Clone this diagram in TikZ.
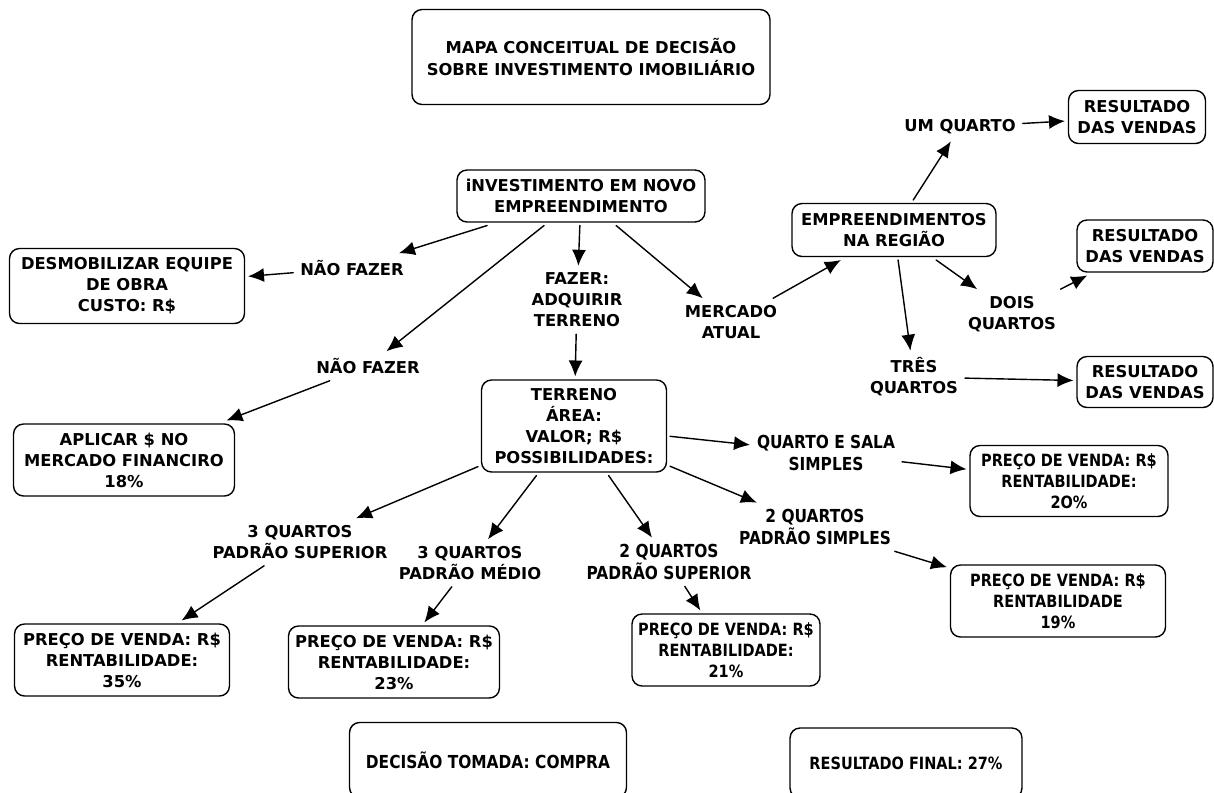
\documentclass[tikz,border=0pt]{standalone}
\usepackage{fontspec}
\setmainfont{DejaVu Sans}
\newfontfamily\condfont{DejaVu Sans}[FakeStretch=0.86]
\usetikzlibrary{arrows.meta}

\begin{document}
\begin{tikzpicture}
    [line cap=round,line join=round,x=0.02cm,y=-0.02cm,
     box/.style={draw,rounded corners=2mm,line width=0.8pt,align=center,inner sep=2pt,outer sep=2pt,
                 font=\fontsize{9.3}{12}\selectfont\bfseries},
     lbl/.style={align=center,inner sep=3pt,outer sep=1pt,font=\fontsize{9.3}{12}\selectfont\bfseries},
     cond/.style={font=\fontsize{9.6}{12}\selectfont\condfont\bfseries},
     bigcond/.style={font=\fontsize{10.2}{12}\selectfont\condfont\bfseries},
     arr/.style={-{Latex[length=3.2mm,width=2.8mm]},line width=0.8pt}]
\useasboundingbox (0,0) rectangle (1214,792);
%boxes
\node[box,minimum width=7.16cm,minimum height=1.90cm] (title) at (591,57) {MAPA CONCEITUAL DE DECIS\~AO\\SOBRE INVESTIMENTO IMOBILI\'ARIO};
\node[box,minimum width=4.96cm,minimum height=1.04cm] (invest) at (581,196) {iNVESTIMENTO EM NOVO\\EMPREENDIMENTO};
\node[box,minimum width=4.70cm,minimum height=1.50cm] (desmob) at (127,286) {DESMOBILIZAR EQUIPE\\DE OBRA\\CUSTO: R\$};
\node[box,minimum width=4.42cm,minimum height=1.44cm] (aplicar) at (124,460) {APLICAR \$ NO\\MERCADO FINANCIRO\\18\%};
\node[box,minimum width=4.08cm,minimum height=1.06cm] (empreend) at (894,230) {EMPREENDIMENTOS\\NA REGI\~AO};
\node[box,minimum width=2.74cm,minimum height=1.06cm] (res1) at (1137,117) {RESULTADO\\DAS VENDAS};
\node[box,minimum width=2.72cm,minimum height=1.04cm] (res2) at (1145,246) {RESULTADO\\DAS VENDAS};
\node[box,minimum width=2.72cm,minimum height=1.02cm] (res3) at (1145,382) {RESULTADO\\DAS VENDAS};
\node[box,minimum width=3.70cm,minimum height=1.84cm] (terreno) at (574,426) {TERRENO\\\'AREA:\\VALOR; R\$\\POSSIBILIDADES:};
\node[box,cond,minimum width=3.96cm,minimum height=1.42cm] (pv20) at (1069,481) {PRE\c{C}O DE VENDA: R\$\\RENTABILIDADE:\\2O\%};
\node[box,minimum width=4.30cm,minimum height=1.44cm] (pv35) at (122,660) {PRE\c{C}O DE VENDA: R\$\\RENTABILIDADE:\\35\%};
\node[box,minimum width=4.22cm,minimum height=1.44cm] (pv23) at (394,662) {PRE\c{C}O DE VENDA: R\$\\RENTABILIDADE:\\23\%};
\node[box,cond,minimum width=3.76cm,minimum height=1.44cm] (pv21) at (726,650) {PRE\c{C}O DE VENDA: R\$\\RENTABILIDADE:\\21\%};
\node[box,cond,minimum width=4.30cm,minimum height=1.44cm] (pv19) at (1058,601) {PRE\c{C}O DE VENDA: R\$\\RENTABILIDADE\\19\%};
\node[box,bigcond,minimum width=5.54cm,minimum height=1.50cm] (decisao) at (488,760) {DECIS\~AO TOMADA: COMPRA};
\node[box,cond,minimum width=4.64cm,minimum height=1.40cm] (resfinal) at (906,763) {RESULTADO FINAL: 27\%};
%labels on the links
\node[lbl] (naofaz1) at (352,268) {N\~AO FAZER};
\node[lbl] (naofaz2) at (368,366) {N\~AO FAZER};
\node[lbl] (fazer) at (577,300) {FAZER:\\ADQUIRIR\\TERRENO};
\node[lbl] (mercado) at (731,322) {MERCADO\\ATUAL};
\node[lbl] (umq) at (960,127) {UM QUARTO};
\node[lbl] (doisq) at (1012,314) {DOIS\\QUARTOS};
\node[lbl] (tresq) at (914,377) {TR\^ES\\QUARTOS};
\node[lbl,bigcond] (qsala) at (826,453) {QUARTO E SALA\\SIMPLES};
\node[lbl,bigcond] (dqsimp) at (815,527) {2 QUARTOS\\PADR\~AO SIMPLES};
\node[lbl,bigcond] (dqsup) at (669,562) {2 QUARTOS\\PADR\~AO SUPERIOR};
\node[lbl] (tqmed) at (470,563) {3 QUARTOS\\PADR\~AO M\'EDIO};
\node[lbl] (tqsup) at (300,542) {3 QUARTOS\\PADR\~AO SUPERIOR};
%connectors
\draw[arr] (invest) -- (naofaz1);
\draw[arr] (naofaz1) -- (desmob);
\draw[arr] (invest) -- (naofaz2);
\draw[arr] (naofaz2) -- (aplicar);
\draw[arr] (invest) -- (fazer);
\draw[arr] (fazer) -- (terreno);
\draw[arr] (invest) -- (mercado);
\draw[arr] (mercado) -- (empreend);
\draw[arr] (empreend) -- (umq);
\draw[arr] (umq) -- (res1);
\draw[arr] (empreend) -- (doisq);
\draw[arr] (doisq) -- (res2);
\draw[arr] (empreend) -- (tresq);
\draw[arr] (tresq) -- (res3);
\draw[arr] (terreno) -- (qsala);
\draw[arr] (qsala) -- (pv20);
\draw[arr] (terreno) -- (dqsimp);
\draw[arr] (dqsimp) -- (pv19);
\draw[arr] (terreno) -- (dqsup);
\draw[arr] (dqsup) -- (pv21);
\draw[arr] (terreno) -- (tqmed);
\draw[arr] (tqmed) -- (pv23);
\draw[arr] (terreno) -- (tqsup);
\draw[arr] (tqsup) -- (pv35);
\end{tikzpicture}
\end{document}
